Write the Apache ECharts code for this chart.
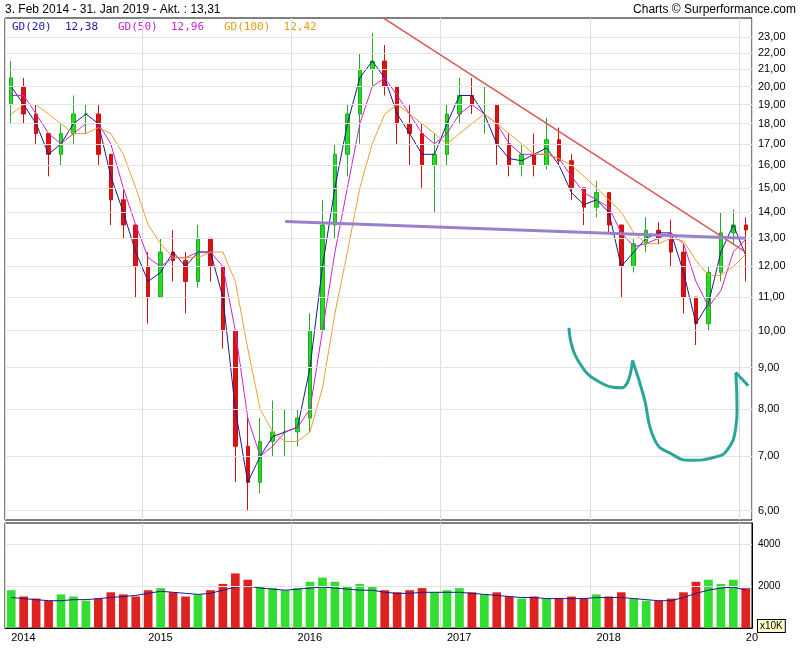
<!DOCTYPE html><html><head><meta charset="utf-8">
<script src="https://cdn.jsdelivr.net/npm/echarts@6/dist/echarts.min.js"></script>
<style>body{margin:0;background:#fff}#c{width:804px;height:650px}</style></head><body><div id="c"></div>
<script>
const months=["2014-02","2014-03","2014-04","2014-05","2014-06","2014-07","2014-08","2014-09","2014-10","2014-11","2014-12","2015-01","2015-02","2015-03","2015-04","2015-05","2015-06","2015-07","2015-08","2015-09","2015-10","2015-11","2015-12","2016-01","2016-02","2016-03","2016-04","2016-05","2016-06","2016-07","2016-08","2016-09","2016-10","2016-11","2016-12","2017-01","2017-02","2017-03","2017-04","2017-05","2017-06","2017-07","2017-08","2017-09","2017-10","2017-11","2017-12","2018-01","2018-02","2018-03","2018-04","2018-05","2018-06","2018-07","2018-08","2018-09","2018-10","2018-11","2018-12","2019-01"];
const yearLabels={"2014-02":"2014","2015-01":"2015","2016-01":"2016","2017-01":"2017","2018-01":"2018","2019-01":"20"};
// [open, close, low, high]
const ohlc=[[19,20.5,18,21.5],[20,18.5,18,20.5],[18.5,17.5,17,19],[17.5,16.5,15.5,17.5],[16.5,17.5,16,18],[17.5,18.5,17,19.5],[18.5,18.5,17.5,19],[18.5,16.5,16,19],[16.5,14.5,13.5,16.5],[14.5,13.5,13,15],[13.5,12,11,13.5],[12,11,10.2,12.5],[11,12.5,11,13],[12.5,12.2,11.5,13.3],[12.2,11.5,10.5,12.5],[11.5,13,11.3,13.5],[13,12,11.5,13],[12,10,9.5,12],[10,7.2,6.5,10],[7.2,6.5,6,7.8],[6.5,7.3,6.3,7.8],[7.3,7.5,7,8.2],[7.5,7.5,7,8],[7.5,7.8,7.2,8],[7.8,10,7.5,10.5],[10,13.5,10,14.5],[13.5,16.5,13,17],[16.5,18.5,15.5,19],[18.5,21,17,22],[21,21.5,20,23.3],[21.5,20,19.5,22.5],[20,18,17,20],[18,17.5,16,19],[17.5,16,15,18],[16,16.5,14,17.5],[16.5,18.5,16,19],[18.5,19.5,18,20.5],[19.5,19,18.5,20.5],[19,19,17.5,20],[19,17,16,19],[17,16,15.5,17.5],[16,16.5,15.5,17],[16.5,16,15.5,17.5],[16,17.2,15.8,18.3],[17.2,16.2,16,17.8],[16.2,15,14.5,16.5],[15,14.2,13.5,15],[14.2,14.8,13.8,15.3],[14.8,13.5,13.2,14.8],[13.5,12,11,13.5],[12,12.8,11.8,13],[12.8,13.3,12.5,13.8],[13.3,13,12.8,13.6],[13,12.5,12,13.7],[12.5,11,10.5,12.8],[11,10.2,9.6,11],[10.2,11.8,10,12],[11.8,13.2,11.5,14],[13.2,13.5,12.8,14.1],[13.5,13.31,11.5,13.8]];
const gd20=[20,19,18,16.5,17,18,18.5,18,15.5,14,12.5,11.5,11.8,12.5,12,12.5,12.5,11,8,6.5,7,7.4,7.5,7.6,9,12,15,18,20.5,21.5,20.5,18.5,17.5,16.5,16.5,18,19.5,19.5,18.5,17,16.3,16.2,16.5,16.8,16,14.8,14.3,14.5,14,12,12.5,13,13.2,13.2,11.8,10.2,10.8,12.5,13.5,12.38];
const gd50=[19.5,19.5,18.5,17.5,17,17.5,18,18,17,15,13.5,12.3,12,12.3,12.3,12.5,12.5,12,10,7.8,7,7.2,7.5,7.6,8,10,12.5,15,18,20,20.5,19.5,18.5,17.5,17,17.5,18.5,19,18.5,18,17,16.5,16.5,16.5,16.3,15.5,14.8,14.5,14.2,13.2,12.7,12.8,13,13.2,12.8,11.5,10.7,11.2,12.5,12.96];
const gd100=[18.5,19,19,18.5,18,17.5,17.5,17.8,17.5,16.5,15,13.5,12.8,12.3,12.3,12.3,12.5,12.5,11.5,9.5,8,7.5,7.3,7.3,7.5,8.5,10.5,12.5,15,17,18.5,19,18.5,18,17.5,17,17.5,18,18.5,18,17.5,17,16.5,16.5,16.3,16,15.5,15,14.5,14,13.2,12.8,12.8,13,12.9,12.2,11.7,11.7,12,12.42];
const volume=[1800,1500,1400,1300,1600,1500,1300,1400,1700,1600,1500,1800,1900,1700,1500,1600,1800,2100,2600,2300,2000,1900,1800,1900,2200,2400,2200,2000,2100,2000,1800,1700,1800,1900,1700,1800,1900,1700,1600,1700,1500,1400,1500,1400,1400,1500,1400,1600,1500,1700,1400,1300,1300,1400,1700,2200,2300,2100,2300,1900];
const volAvg=[1450,1400,1350,1300,1300,1350,1350,1400,1450,1500,1550,1650,1750,1700,1650,1600,1650,1800,1950,2000,1900,1850,1800,1850,1900,1950,1900,1850,1800,1800,1700,1650,1650,1700,1700,1700,1700,1650,1600,1550,1500,1450,1450,1400,1400,1400,1400,1450,1450,1450,1400,1350,1300,1300,1450,1650,1800,1900,1950,1800];
const priceTicks=[6,7,8,9,10,11,12,13,14,15,16,17,18,19,20,21,22,23];
const volTicks=[2000,4000];
const redTrend=[[29,24.8],[59,12.5]];
const purpleLine=[[22,13.63],[59,13.0]];
const teal1=[[44.8,10.08],[45.5,9.2],[47.5,8.6],[49,8.5],[49.9,9.19]];
const teal2=[[49.9,9.19],[50.8,8.3],[51.7,7.32],[53,7.05],[54.5,6.92],[56.5,6.98],[57.5,7.12],[58.2,7.6],[58.3,7.97],[58.2,8.88]];
const teal3=[[58.2,8.88],[59.2,8.55]];

const L=Math.log;
const fmt=v=>v.toFixed(2).replace('.',',');
const chart=echarts.init(document.getElementById('c'));
const lineS=(name,data,color)=>({name,type:'line',data:data.map(L),symbol:'none',lineStyle:{width:1,color},z:4});
const tealS=d=>({type:'line',xAxisIndex:2,yAxisIndex:0,data:d.map(p=>[p[0],L(p[1])]),smooth:true,symbol:'none',lineStyle:{color:'#2aa59b',width:3},z:6});
chart.setOption({
 animation:false,
 textStyle:{fontFamily:'Liberation Sans, Arial'},
 graphic:[
  {type:'text',left:5,top:4,style:{text:'3. Feb 2014 - 31. Jan 2019 - Akt. : 13,31',fontSize:12,fill:'#000'}},
  {type:'text',right:8,top:4,style:{text:'Charts © Surperformance.com',fontSize:12,fill:'#000'}},
  {type:'text',left:12,top:22,style:{rich:{a:{fill:'#1a1aa8'},b:{fill:'#cc22cc'},c:{fill:'#e89a1a'}},text:'{a|GD(20)  12,38}   {b|GD(50)  12,96}   {c|GD(100)  12,42}',fontSize:11,fontFamily:'DejaVu Sans Mono'}},
  {type:'text',left:757,top:619,z:10,style:{text:'x10K',fontSize:10,fill:'#000',backgroundColor:'#ffffcc',borderColor:'#000',borderWidth:1,padding:[1,2]}}
 ],
 grid:[{left:5,right:52,top:18,height:502,show:true,borderColor:'#000',borderWidth:1,outerBoundsMode:'none',containLabel:false},
       {left:5,right:52,top:523,height:105,show:true,borderColor:'#000',borderWidth:1,outerBoundsMode:'none',containLabel:false}],
 xAxis:[
  {type:'category',gridIndex:0,data:months,boundaryGap:true,axisLabel:{show:false},axisTick:{show:false},axisLine:{show:false},
   splitLine:{show:true,interval:(i,v)=>!!yearLabels[v],lineStyle:{color:'#ddd'}}},
  {type:'category',gridIndex:1,data:months,boundaryGap:true,axisTick:{show:false},axisLine:{lineStyle:{color:'#000'}},
   splitLine:{show:true,interval:(i,v)=>!!yearLabels[v],lineStyle:{color:'#ddd'}},
   axisLabel:{interval:(i,v)=>!!yearLabels[v],formatter:v=>yearLabels[v]||'',color:'#000',fontSize:11,margin:4,align:'left'}},
  {type:'value',gridIndex:0,min:-0.5,max:59.5,show:false}
 ],
 yAxis:[
  {type:'value',gridIndex:0,position:'right',min:L(5.84),max:L(24.3),axisLabel:{show:false},splitLine:{show:false},axisLine:{show:false},axisTick:{show:false}},
  {type:'value',gridIndex:1,position:'right',min:0,max:5000,axisLabel:{show:false},splitLine:{show:false},axisLine:{show:true,lineStyle:{color:'#000'}},axisTick:{show:false}}
 ],
 series:[
  {type:'candlestick',data:ohlc.map(r=>r.map(L)),barMaxWidth:4,
   itemStyle:{color:'#22dd22',color0:'#dd1111',borderColor:'#22aa22',borderColor0:'#cc1111'},z:3,
   markLine:{silent:true,symbol:'none',precision:8,lineStyle:{color:'#e4e4e4',type:'solid',width:1},
    label:{position:'end',formatter:p=>p.name,color:'#000',fontSize:11,distance:6},
    data:priceTicks.map(t=>({yAxis:L(t),name:fmt(t)}))}},
  lineS('GD(20)',gd20,'#1a1a8c'),lineS('GD(50)',gd50,'#cc22cc'),lineS('GD(100)',gd100,'#e8a030'),
  {type:'line',xAxisIndex:2,yAxisIndex:0,data:redTrend.map(p=>[p[0],L(p[1])]),symbol:'none',lineStyle:{color:'#dd5555',width:1.5},z:5},
  {type:'line',xAxisIndex:2,yAxisIndex:0,data:purpleLine.map(p=>[p[0],L(p[1])]),symbol:'none',lineStyle:{color:'#9980cc',width:3},z:5},
  tealS(teal1),tealS(teal2),tealS(teal3),
  {type:'bar',xAxisIndex:1,yAxisIndex:1,data:volume.map((v,i)=>({value:v,itemStyle:{color:ohlc[i][1]>=ohlc[i][0]?'#33dd33':'#dd2222'}})),barWidth:'70%',
   markLine:{silent:true,symbol:'none',lineStyle:{color:'#e4e4e4',type:'solid',width:1},
    label:{position:'end',formatter:p=>p.name,color:'#000',fontSize:10,distance:6},
    data:volTicks.map(t=>({yAxis:t,name:String(t)}))}},
  {type:'line',xAxisIndex:1,yAxisIndex:1,data:volAvg,symbol:'none',lineStyle:{color:'#1a1a8c',width:1}}
 ]
});
</script></body></html>
